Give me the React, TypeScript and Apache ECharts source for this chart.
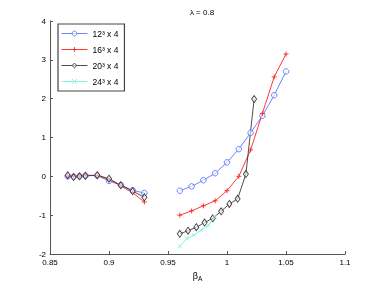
import React, { useEffect, useRef } from "react";
import * as echarts from "echarts";

const leftBeta = [0.865, 0.87, 0.875, 0.88, 0.89, 0.9, 0.91, 0.92, 0.93];
const left12 = [0.0, -0.01, 0.0, 0.02, 0.02, -0.12, -0.22, -0.36, -0.43];
const left16 = [0.01, 0.0, 0.01, 0.03, 0.02, -0.08, -0.25, -0.42, -0.66];
const left20 = [0.03, -0.02, 0.0, 0.01, 0.03, -0.06, -0.23, -0.38, -0.54];

const rightBeta = [0.96, 0.97, 0.98, 0.99, 1.0, 1.01, 1.02, 1.03, 1.04, 1.05];
const right12 = [-0.37, -0.26, -0.1, 0.08, 0.36, 0.7, 1.12, 1.56, 2.09, 2.7];
const right16 = [-1.0, -0.89, -0.76, -0.63, -0.37, 0.0, 0.68, 1.62, 2.56, 3.15];

const beta20 = [0.96, 0.967, 0.974, 0.981, 0.988, 0.995, 1.002, 1.009, 1.016, 1.023];
const right20 = [-1.48, -1.4, -1.31, -1.19, -1.08, -0.9, -0.71, -0.58, 0.06, 1.99];

const beta24 = [0.96, 0.966, 0.972, 0.978, 0.984, 0.99];
const right24 = [-1.8, -1.6, -1.51, -1.39, -1.27, -1.05];

const seriesNames = ["12³ x 4", "16³ x 4", "20³ x 4", "24³ x 4"];
const xTicks = { min: 0.85, max: 1.1, interval: 0.05 };
const yTicks = { min: -2, max: 4, interval: 1 };

const pairs = (xs: number[], ys: number[]) => xs.map((x, i) => [x, ys[i]]);

const PLUS = "path://M0,5L10,5M5,0L5,10";
const CROSS = "path://M0,0L10,10M10,0L0,10";

export default function App() {
  const ref = useRef<HTMLDivElement>(null);
  useEffect(() => {
    if (!ref.current) return;
    const chart = echarts.init(ref.current, undefined, { renderer: "svg" });
    const font = "'Liberation Sans', Arial, sans-serif";
    const styles = [
      { color: "#5a78ff", symbol: "circle", size: 5.5, fill: "rgba(255,255,255,0.6)" },
      { color: "#ff2222", symbol: PLUS, size: 5, fill: "#ff2222" },
      { color: "#3a3a3a", symbol: "diamond", size: [5, 7], fill: "rgba(255,255,255,0.6)" },
      { color: "#7ff0dc", symbol: CROSS, size: 4, fill: "#7ff0dc" },
    ];
    const mk = (idx: number, data: number[][]) => {
      const s = styles[idx];
      return {
        name: seriesNames[idx],
        type: "line",
        data,
        symbol: s.symbol,
        symbolSize: s.size,
        showAllSymbol: true,
        lineStyle: { color: s.color, width: 0.9 },
        itemStyle: {
          color: s.fill,
          borderColor: s.color,
          borderWidth: 0.9,
        },
      };
    };
    chart.setOption({
      animation: false,
      textStyle: { fontFamily: font },
      title: {
        text: "λ = 0.8",
        left: 197,
        top: 3,
        textAlign: "center",
        textStyle: { fontSize: 8, fontWeight: "normal", color: "#000", fontFamily: font },
      },
      grid: { left: 50, right: 37, top: 21, bottom: 33 },
      legend: {
        data: seriesNames,
        orient: "vertical",
        left: 58,
        top: 24,
        borderColor: "#444",
        borderWidth: 1.2,
        padding: [5, 6, 5, 3],
        itemGap: 7,
        itemWidth: 26,
        itemHeight: 6,
        lineStyle: { width: 0.9 },
        itemStyle: { borderWidth: 0.9 },
        textStyle: { fontSize: 8.5, color: "#000", fontFamily: font },
      },
      xAxis: {
        type: "value",
        min: xTicks.min,
        max: xTicks.max,
        interval: xTicks.interval,
        name: "{b|β}{s|A}",
        nameLocation: "middle",
        nameGap: 15,
        nameTextStyle: {
          rich: {
            b: { fontSize: 9, color: "#000", fontFamily: font },
            s: { fontSize: 6.5, color: "#000", fontFamily: font, verticalAlign: "bottom", padding: [6, 0, 0, 0] },
          },
        },
        axisLine: { onZero: false, lineStyle: { color: "#555", width: 1 } },
        axisTick: { inside: true, length: 3, lineStyle: { color: "#555" } },
        axisLabel: { fontSize: 8, color: "#000", margin: 4, fontFamily: font },
        splitLine: { show: false },
      },
      yAxis: {
        type: "value",
        min: yTicks.min,
        max: yTicks.max,
        interval: yTicks.interval,
        axisLine: { show: true, onZero: false, lineStyle: { color: "#555", width: 1 } },
        axisTick: { show: true, inside: true, length: 3, lineStyle: { color: "#555" } },
        axisLabel: { fontSize: 8, color: "#000", margin: 4, fontFamily: font },
        splitLine: { show: false },
      },
      series: [
        mk(0, pairs(leftBeta, left12)),
        mk(1, pairs(leftBeta, left16)),
        mk(2, pairs(leftBeta, left20)),
        mk(0, pairs(rightBeta, right12)),
        mk(1, pairs(rightBeta, right16)),
        mk(2, pairs(beta20, right20)),
        mk(3, pairs(beta24, right24)),
      ],
    });
    return () => chart.dispose();
  }, []);
  return (
    <div
      ref={ref}
      style={{ position: "fixed", left: 0, top: 0, width: 382, height: 287 }}
    />
  );
}
